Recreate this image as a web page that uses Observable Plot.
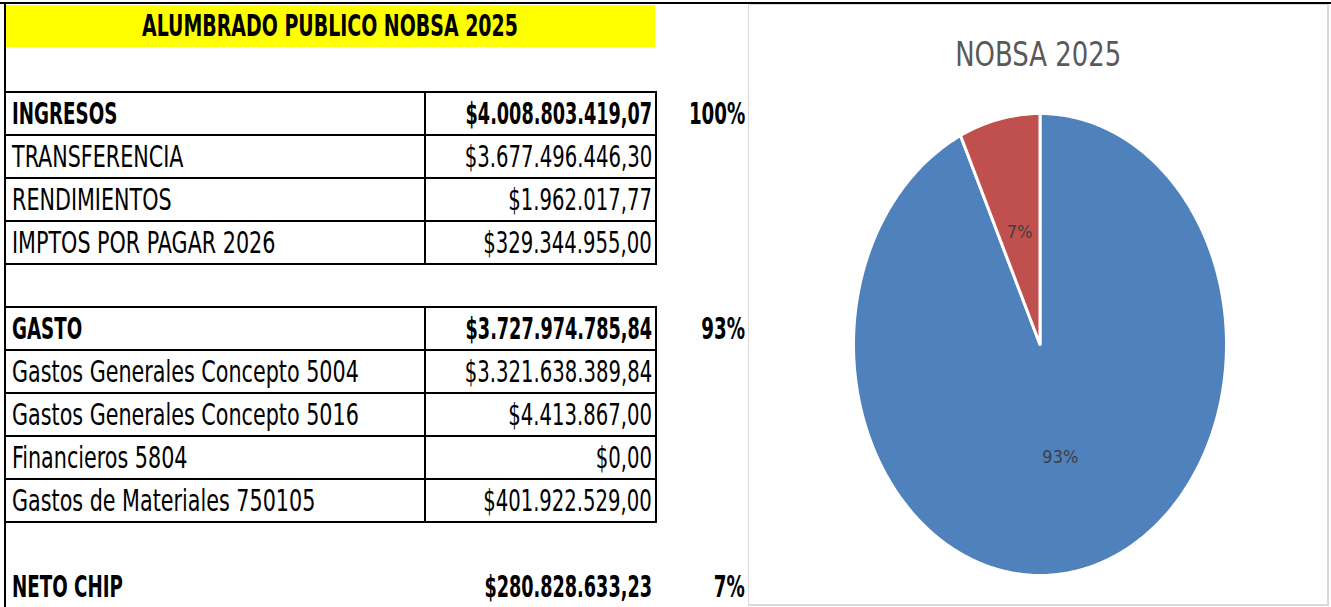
<!DOCTYPE html>
<html><head><meta charset="utf-8">
<script src="https://cdn.jsdelivr.net/npm/d3@7"></script>
<script src="https://cdn.jsdelivr.net/npm/@observablehq/plot@0.6"></script>
<style>
html,body{margin:0;padding:0;background:#fff;}
#root{position:relative;width:1331px;height:607px;overflow:hidden;font-family:"DejaVu Sans Condensed","DejaVu Sans",sans-serif;}
.t{position:absolute;display:flex;align-items:center;white-space:nowrap;font-size:26px;color:#000;}
.t span{display:inline-block;}
.ln{position:absolute;background:#000;}
</style></head>
<body><div id="root"></div>
<script>
// ---- data ----
const title = "ALUMBRADO PUBLICO NOBSA 2025";
const chartTitle = "NOBSA 2025";
const ingresosLabel = "INGRESOS";
const ingresosTotal = 4008803419.07;
const ingresosItems = ["TRANSFERENCIA", "RENDIMIENTOS", "IMPTOS POR PAGAR 2026"];
const ingresosValues = [3677496446.30, 1962017.77, 329344955.00];
const gastoLabel = "GASTO";
const gastoTotal = 3727974785.84;
const gastoItems = ["Gastos Generales Concepto 5004", "Gastos Generales Concepto 5016", "Financieros 5804", "Gastos de Materiales 750105"];
const gastoValues = [3321638389.84, 4413867.00, 0.00, 401922529.00];
const netoLabel = "NETO CHIP";
const netoTotal = 280828633.23;
const pieCategories = ["GASTO", "NETO CHIP"];
const pieValues = [gastoTotal, netoTotal];
const pieColors = ["#4f81bd", "#c0504d"];

// ---- formatting ----
const loc = d3.formatLocale({decimal: ",", thousands: ".", grouping: [3], currency: ["$", ""]});
const money = loc.format("$,.2f");
const pct = d3.format(".0%");

const root = document.getElementById("root");
const REG = "scale(0.885,1.13)", BOLD = "scale(0.78,1.13)";
const REGNUM = "scale(0.84,1.13)", BOLDNUM = "scale(0.755,1.13)";
function box(cls, css, text, bold, origin, tf) {
  const d = document.createElement("div");
  d.className = cls;
  Object.assign(d.style, css);
  if (text != null) {
    const s = document.createElement("span");
    s.textContent = text;
    if (bold) s.style.fontWeight = "bold";
    s.style.transform = tf || (bold ? BOLD : REG);
    s.style.transformOrigin = (origin || "left") + " center";
    d.appendChild(s);
  }
  root.appendChild(d);
  return d;
}
function line(x, y, w, h, color) {
  box("ln", {left: x + "px", top: y + "px", width: w + "px", height: h + "px", background: color || "#000"});
}

// layout constants
const rowH = 43, top0 = 92, xL = 5, xMid = 425, xR = 656, xPct = 745;

// yellow title band
box("t", {left: "5px", top: "5px", width: "650px", height: "42px", background: "#ffff00", justifyContent: "center"}, title, true, "center", "scale(0.81,1.13)");

// rows
const rows = [];
rows.push({label: ingresosLabel, value: ingresosTotal, bold: true, pct: ingresosTotal / ingresosTotal});
ingresosItems.forEach((l, i) => rows.push({label: l, value: ingresosValues[i]}));
rows.push(null);
rows.push({label: gastoLabel, value: gastoTotal, bold: true, pct: gastoTotal / ingresosTotal});
gastoItems.forEach((l, i) => rows.push({label: l, value: gastoValues[i]}));
rows.push(null);
rows.push({label: netoLabel, value: netoTotal, bold: true, pct: netoTotal / ingresosTotal});

rows.forEach((r, i) => {
  if (!r) return;
  const y = top0 + i * rowH;
  box("t", {left: "12px", top: y + "px", width: "410px", height: rowH + "px"}, r.label, r.bold, "left");
  box("t", {left: xMid + "px", top: y + "px", width: (xR - xMid - 4) + "px", height: rowH + "px", justifyContent: "flex-end"}, money(r.value), r.bold, "right", r.bold ? BOLDNUM : REGNUM);
  if (r.pct != null) box("t", {left: (xR + 4) + "px", top: y + "px", width: (xPct - xR - 4) + "px", height: rowH + "px", justifyContent: "flex-end"}, pct(r.pct), true, "right");
});

// table borders: two bordered blocks
function block(i0, n) {
  const y0 = top0 + i0 * rowH;
  for (let k = 0; k <= n; k++) line(xL, y0 + k * rowH - 1, xR - xL + 1, 2);
  line(xMid - 1, y0, 2, n * rowH);
  line(xR - 1, y0 - 1, 2, n * rowH + 2);
}
block(0, 4);
block(5, 5);
// sheet edges
line(0, 2, 1331, 2);
line(xL - 1, 2, 2, 605);

// chart frame
box("", {position: "absolute", left: "748px", top: "4px", width: "581px", height: "602px", border: "1px solid #d9d9d9", borderRightWidth: "2px", borderBottomWidth: "2px", boxSizing: "border-box"});
box("t", {left: "748px", top: "34px", width: "581px", height: "40px", justifyContent: "center", fontSize: "32px", color: "#595959"}, chartTitle, false, "center", "scale(0.9,1.08)");

// ---- pie (drawn with Plot) ----
const total = d3.sum(pieValues);
const wedges = [];
const labels = [];
let acc = 0;
pieValues.forEach((v, i) => {
  const a0 = acc / total, a1 = (acc + v) / total;
  acc += v;
  wedges.push({cat: pieCategories[i], x: 0, y: 0});
  const n = Math.max(2, Math.ceil((a1 - a0) * 400));
  for (let k = 0; k <= n; k++) {
    const t = (a0 + (a1 - a0) * k / n) * 2 * Math.PI;
    wedges.push({cat: pieCategories[i], x: Math.sin(t), y: Math.cos(t)});
  }
  const tm = (a0 + a1) / 2 * 2 * Math.PI;
  labels.push({cat: pieCategories[i], x: 0.5 * Math.sin(tm), y: 0.5 * Math.cos(tm), text: pct(v / total)});
});

const svg = Plot.plot({
  width: 581, height: 602,
  marginLeft: 105, marginRight: 103, marginTop: 110, marginBottom: 30,
  x: {domain: [-1, 1], axis: null},
  y: {domain: [-1, 1], axis: null},
  color: {domain: pieCategories, range: pieColors},
  style: {background: "transparent", fontFamily: "'DejaVu Sans Condensed','DejaVu Sans',sans-serif"},
  marks: [
    Plot.line(wedges, {x: "x", y: "y", z: "cat", fill: "cat", stroke: "white", strokeWidth: 3, curve: "linear-closed"}),
    Plot.text(labels, {x: "x", y: "y", text: "text", fill: "#404040", fontSize: 18})
  ]
});
svg.style.position = "absolute";
svg.style.left = "748px";
svg.style.top = "3px";
root.appendChild(svg);
</script>
</body></html>
